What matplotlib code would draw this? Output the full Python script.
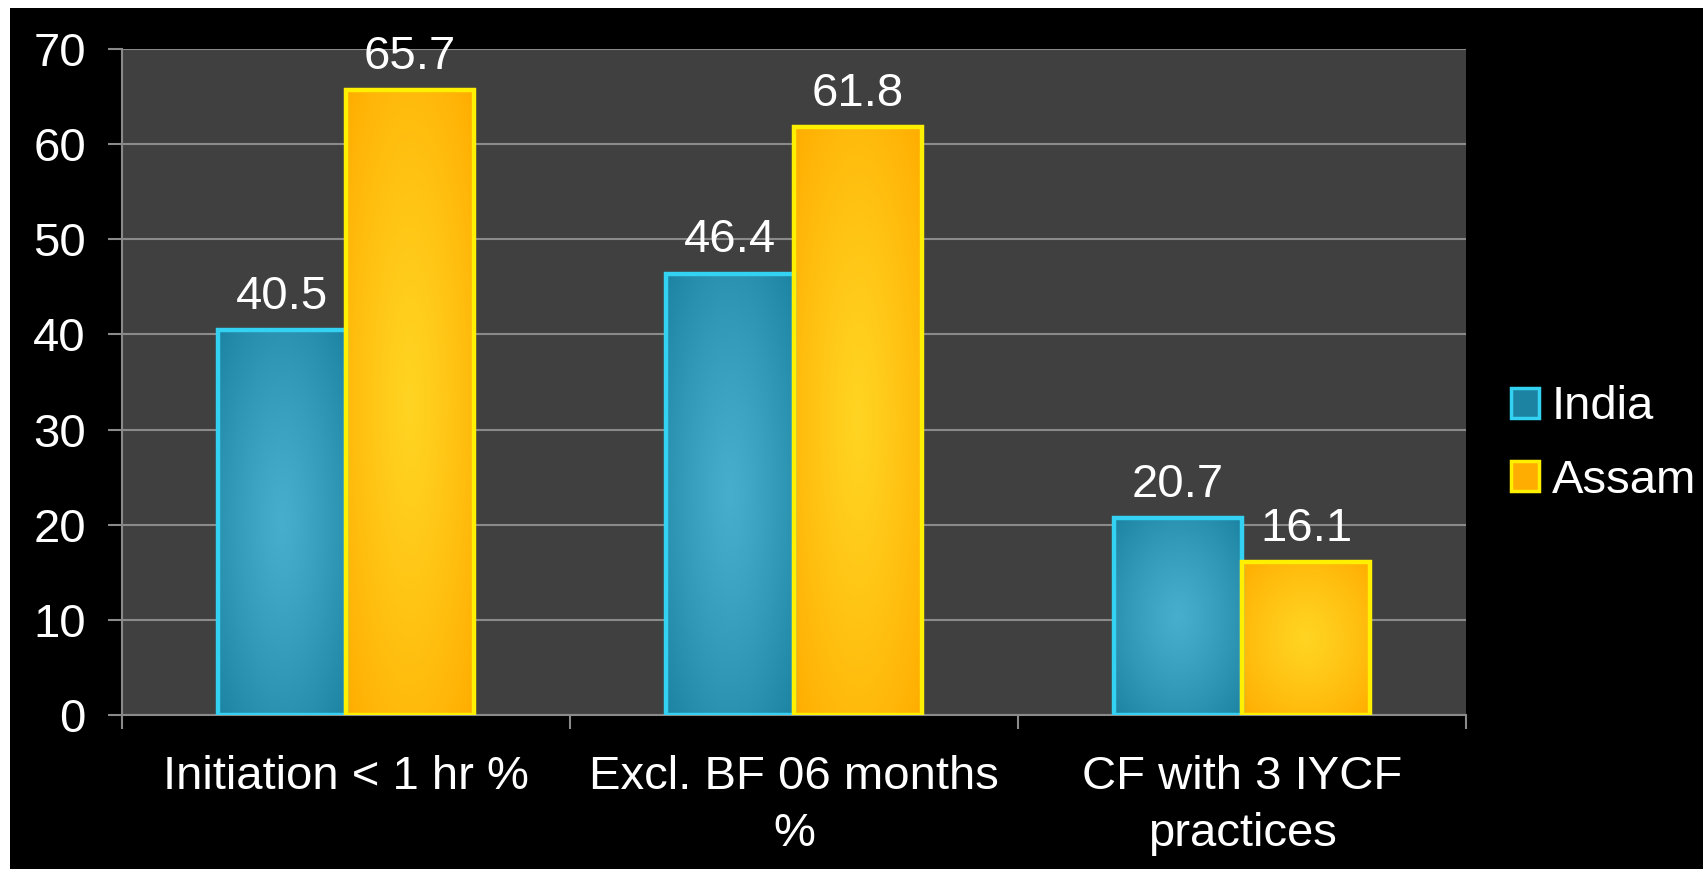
import numpy as np
import matplotlib.pyplot as plt
from matplotlib.patches import Rectangle, Patch
from matplotlib.colors import to_rgb

categories = ["Initiation < 1 hr %", "Excl. BF 06 months\n%", "CF with 3 IYCF\npractices"]
india = [40.5, 46.4, 20.7]
assam = [65.7, 61.8, 16.1]
series_names = ["India", "Assam"]
y_ticks = [0, 10, 20, 30, 40, 50, 60, 70]

# fill gradient (centre, outer) and border colour per series
styles = {
    "India": {"inner": "#48AECD", "outer": "#1C84A2", "edge": "#33D2F2"},
    "Assam": {"inner": "#FFD422", "outer": "#FFAD00", "edge": "#FFEF00"},
}

plt.rcParams["font.family"] = ["Liberation Sans", "DejaVu Sans"]
FS = 34

fig = plt.figure(figsize=(17.03, 8.69), dpi=100, facecolor="white")
# black slide background, leaving the thin white margin at left/top
fig.patches.append(Rectangle((10 / 1703, 0), 1, 1 - 8 / 869, transform=fig.transFigure,
                             facecolor="black", edgecolor="none", zorder=-5))

ax = fig.add_axes([122 / 1703, 1 - 715 / 869, (1466 - 122) / 1703, (715 - 49) / 869])
ax.set_facecolor("#404040")

bar_w = 0.2857


def gradient_bar(x_center, height, st):
    x0 = x_center - bar_w / 2
    ny, nx = 200, 60
    yy, xx = np.mgrid[0:1:ny * 1j, 0:1:nx * 1j]
    r = np.sqrt(((xx - 0.5) / 0.5) ** 2 + ((yy - 0.5) / 0.5) ** 2) / np.sqrt(2)
    r = np.clip(r, 0, 1) ** 1.2
    c_in = np.array(to_rgb(st["inner"]))
    c_out = np.array(to_rgb(st["outer"]))
    img = c_in[None, None, :] * (1 - r[..., None]) + c_out[None, None, :] * r[..., None]
    rect = Rectangle((x0, 0), bar_w, height, facecolor="none", edgecolor=st["edge"],
                     linewidth=3.2, zorder=4)
    ax.add_patch(rect)
    im = ax.imshow(img, extent=(x0, x0 + bar_w, 0, height), origin="lower",
                   aspect="auto", zorder=3, interpolation="bilinear")
    im.set_clip_path(rect)


x = np.arange(len(categories))
for vals, name, off in [(india, "India", -bar_w / 2), (assam, "Assam", bar_w / 2)]:
    for xi, v in zip(x, vals):
        gradient_bar(xi + off, v, styles[name])
        ax.annotate(f"{v}", xy=(xi + off, v), xytext=(0, 8), textcoords="offset points",
                    ha="center", va="bottom", fontsize=FS, color="white", zorder=5)

ax.set_xlim(-0.5, 2.5)
ax.set_ylim(0, 70)
ax.set_yticks(y_ticks)
ax.yaxis.grid(True, color="#8A8A8A", linewidth=1.5, zorder=1)
ax.set_axisbelow(True)

ax.set_xticks(x)
ax.set_xticklabels(categories, fontsize=FS, color="white", linespacing=1.38)
ax.set_xticks([-0.5, 0.5, 1.5, 2.5], minor=True)
ax.tick_params(axis="x", which="major", length=0, pad=29)
ax.tick_params(axis="x", which="minor", length=10, width=1.5, color="#8A8A8A", direction="out")
ax.tick_params(axis="y", length=10, width=1.5, color="#8A8A8A", labelsize=FS,
               labelcolor="white", pad=16)

for s in ["top", "right"]:
    ax.spines[s].set_visible(False)
for s in ["left", "bottom"]:
    ax.spines[s].set_color("#8A8A8A")
    ax.spines[s].set_linewidth(1.5)

handles = [Patch(facecolor=styles[n]["outer"], edgecolor=styles[n]["edge"], linewidth=2.5)
           for n in series_names]
fig.legend(handles, series_names, loc="center left", bbox_to_anchor=(1511 / 1703, 1 - 444 / 869),
           frameon=False, fontsize=FS, labelcolor="white", handlelength=0.6, handleheight=0.6,
           handletextpad=0.26, labelspacing=0.62, borderpad=0, borderaxespad=0)

fig.savefig("out.png", dpi=100, facecolor=fig.get_facecolor())
